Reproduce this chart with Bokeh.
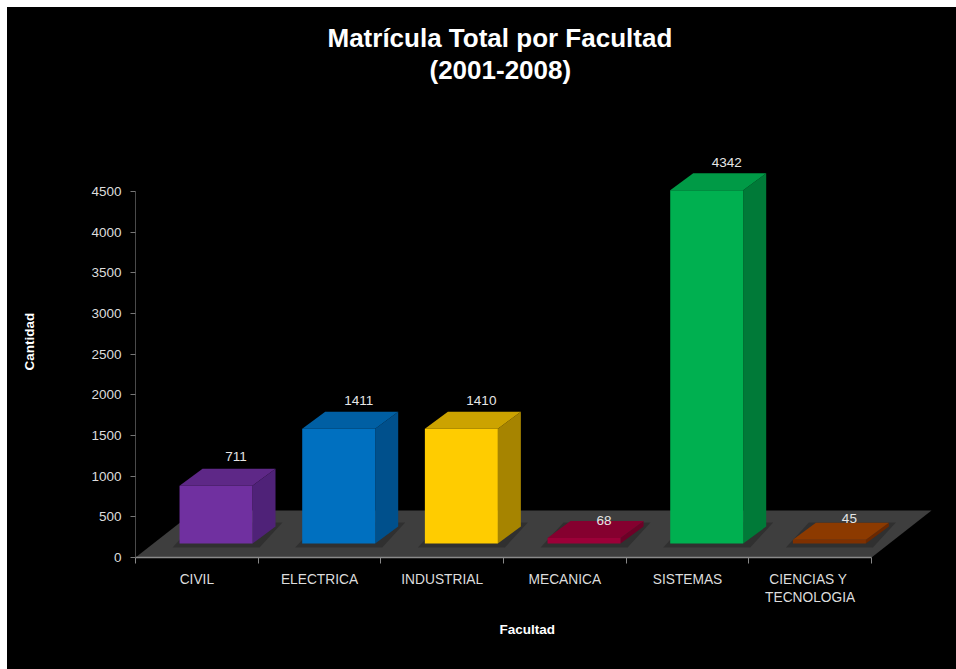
from bokeh.plotting import figure
from bokeh.models import (LinearAxis, FixedTicker, Range1d, PolyAnnotation, Title,
                          ColumnDataSource)
from bokeh.embed import file_html
from bokeh.resources import INLINE
from bokeh.core.properties import value

categories = ["CIVIL", "ELECTRICA", "INDUSTRIAL", "MECANICA", "SISTEMAS", "CIENCIAS  Y\nTECNOLOGIA"]
matricula = [711, 1411, 1410, 68, 4342, 45]
front_colors = ["#7030A0", "#0070C0", "#FFCC00", "#9C0038", "#00B050", "#7F3000"]
top_colors = ["#5E2887", "#005FA3", "#CCA300", "#85002F", "#009A46", "#8C3A00"]
side_colors = ["#4F2278", "#00508C", "#A68400", "#6E0027", "#007A38", "#6B2800"]
y_ticks = [0, 500, 1000, 1500, 2000, 2500, 3000, 3500, 4000, 4500]
label_lift = [12, 11, 11, 0, 11, 4]

FONT = "Liberation Sans"
PX_X = 122.67          # pixels per category
PX_Y = 366 / 4500      # pixels per unit
FRAME_W, FRAME_H = 800, 432
FIG_W, FIG_H = 949, 662

FLOOR_DX = 60 / PX_X
FLOOR_DY = 47 / PX_Y
BASE_Y = 14 / PX_Y
DEPTH_X = 23 / PX_X
DEPTH_Y = 17 / PX_Y
BAR_L, BAR_R = 0.359, 0.954
SH_X, SH_Y = 7 / PX_X, 4 / PX_Y

p = figure(width=FIG_W, height=FIG_H, output_backend="svg", toolbar_location=None,
           x_range=Range1d(0, FRAME_W / PX_X), y_range=Range1d(0, FRAME_H / PX_Y),
           x_axis_location=None, y_axis_location=None,
           border_fill_color="#000000", background_fill_color=None,
           min_border_left=128, min_border_right=21,
           min_border_bottom=112, min_border_top=118,
           frame_width=FRAME_W, frame_height=FRAME_H, margin=(7, 0, 0, 7),
           styles={"background-color": "#000000"})
p.outline_line_color = None
p.grid.visible = False

# Title (two lines, positioned from the frame's left edge); the blank one spaces them off the frame
for text, off, so in [(" ", 0, 9), ("(2001-2008)", 294, 0), ("Matrícula Total por Facultad", 192, 0)]:
    p.add_layout(Title(text=text, align="left", offset=off, text_color="#FFFFFF",
                       text_font=FONT, text_font_size="26px", text_font_style="bold",
                       standoff=so), "above")

# Floor
floor = PolyAnnotation(xs=[0, 6, 6 + FLOOR_DX, FLOOR_DX], ys=[0, 0, FLOOR_DY, FLOOR_DY],
                       fill_color="#3E3E3E", fill_alpha=1, line_color=None, level="underlay")
p.add_layout(floor)

sx, sy, fx, fy, tx, ty, rx, ry = [], [], [], [], [], [], [], []
lx, ly = [], []
for i, v in enumerate(matricula):
    l, r = i + BAR_L, i + BAR_R
    b, t = BASE_Y, BASE_Y + v
    sb, st = b - SH_Y, b + DEPTH_Y + SH_Y
    sx.append([l - SH_X, r + SH_X, r + SH_X + DEPTH_X, l - SH_X + DEPTH_X])
    sy.append([sb, sb, st, st])
    fx.append([l, r, r, l]); fy.append([b, b, t, t])
    tx.append([l, r, r + DEPTH_X, l + DEPTH_X]); ty.append([t, t, t + DEPTH_Y, t + DEPTH_Y])
    rx.append([r, r + DEPTH_X, r + DEPTH_X, r]); ry.append([b, b + DEPTH_Y, t + DEPTH_Y, t])
    lx.append((l + r) / 2 + 20 / PX_X)
    ly.append(t + DEPTH_Y + label_lift[i] / PX_Y)

src = ColumnDataSource(dict(sx=sx, sy=sy, fx=fx, fy=fy, tx=tx, ty=ty, rx=rx, ry=ry,
                            front=front_colors, top=top_colors, side=side_colors,
                            lx=lx, ly=ly, lab=[str(v) for v in matricula]))
p.patches("sx", "sy", source=src, fill_color="#303030", line_color=None)
p.patches("rx", "ry", source=src, fill_color="side", line_color=None)
p.patches("tx", "ty", source=src, fill_color="top", line_color=None)
p.patches("fx", "fy", source=src, fill_color="front", line_color=None)
p.text("lx", "ly", text="lab", source=src, text_color="#E6E6E6", text_align="center",
       text_baseline="middle", text_font=value(FONT), text_font_size="13.5px")

# Axes
xax = LinearAxis(ticker=FixedTicker(ticks=[i + 0.5 for i in range(6)], minor_ticks=list(range(7))),
                 bounds=(0, 6))
xax.major_label_overrides = {i + 0.5: c for i, c in enumerate(categories)}
xax.major_tick_line_color = None
xax.minor_tick_line_color = "#888888"
xax.minor_tick_in = 0
xax.minor_tick_out = 6
xax.axis_line_color = "#8A8A8A"
xax.axis_line_width = 1.5
xax.major_label_text_color = "#DDDDDD"
xax.major_label_text_font = FONT
xax.major_label_text_font_size = "13.75px"
xax.major_label_standoff = 8
p.add_layout(xax, "below")

p.add_layout(Title(text="Facultad", align="left", offset=364, text_color="#FFFFFF",
                   text_font=FONT, text_font_size="13.5px", text_font_style="bold",
                   standoff=24), "below")

yax = LinearAxis(ticker=FixedTicker(ticks=y_ticks), bounds=(0, 4500), axis_label="Cantidad")
yax.major_tick_line_color = "#777777"
yax.major_tick_in = 0
yax.major_tick_out = 5
yax.minor_tick_line_color = None
yax.axis_line_color = "#4A4A4A"
yax.major_label_text_color = "#DDDDDD"
yax.major_label_text_font = FONT
yax.major_label_text_font_size = "13.5px"
yax.major_label_standoff = 9
yax.axis_label_text_color = "#FFFFFF"
yax.axis_label_text_font = FONT
yax.axis_label_text_font_size = "13.5px"
yax.axis_label_text_font_style = "bold"
yax.axis_label_standoff = 51
p.add_layout(yax, "left")

open("out.html", "w").write(file_html(p, INLINE))
